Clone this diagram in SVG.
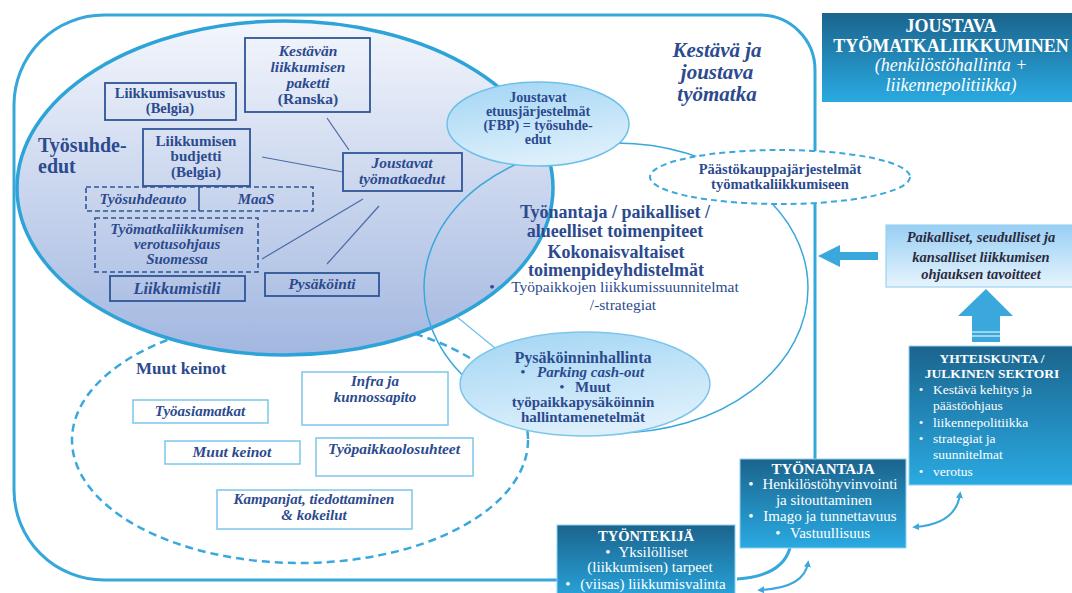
<svg xmlns="http://www.w3.org/2000/svg" width="1072" height="593" viewBox="0 0 1072 593">
<style>
.t{font-family:"Liberation Serif","Times New Roman",serif;fill:#2C4A8E;text-anchor:middle}
.s{text-anchor:start}
.b{font-weight:bold}
.i{font-style:italic}
.w{fill:#ffffff}
.box{fill:none;stroke:#2F5597;stroke-width:1.8}
.dbox{fill:none;stroke:#2F5597;stroke-width:1.6;stroke-dasharray:5 3}
.lbox{fill:#ffffff;stroke:#7CC6EC;stroke-width:1.5}
.link{stroke:#4A6BA8;stroke-width:1.2;fill:none}
.frame{fill:none;stroke:#35A7DA;stroke-width:3}
.cur{fill:none;stroke:#3AA8DC;stroke-width:2}
.dark{fill:url(#gDark);stroke:#8FD2F2;stroke-width:1}
</style>
<defs>
<linearGradient id="gBig" x1="0" y1="0" x2="0" y2="1">
<stop offset="0" stop-color="#F3F6FC"/>
<stop offset="1" stop-color="#A2B7E0"/>
</linearGradient>
<linearGradient id="gLight" x1="0" y1="0" x2="0.3" y2="1">
<stop offset="0" stop-color="#A2D5F4"/>
<stop offset="1" stop-color="#DCEFFB"/>
</linearGradient>
<linearGradient id="gDark" x1="0" y1="0" x2="0" y2="1">
<stop offset="0" stop-color="#1B648D"/>
<stop offset="1" stop-color="#2AAAE2"/>
</linearGradient>
<linearGradient id="gPale" x1="0" y1="0" x2="0" y2="1">
<stop offset="0" stop-color="#98CFF4"/>
<stop offset="1" stop-color="#E6F4FC"/>
</linearGradient>
<marker id="ah" viewBox="0 0 10 10" refX="6" refY="5" markerWidth="7" markerHeight="7" markerUnits="userSpaceOnUse" orient="auto-start-reverse">
<path d="M0,0 L10,5 L0,10 z" fill="#3AA8DC"/>
</marker>
</defs>

<g id="connectors">
<path class="frame" d="M557,580 L104,580 A90,90 0 0 1 14,490 L14,105 A90,90 0 0 1 104,15 L760,15 A55,55 0 0 1 815,70 L815,459"/>
<path class="frame" d="M790,548 Q782,576 737,579"/>
<path class="cur" d="M808,563 Q804,588 760,590" marker-start="url(#ah)" marker-end="url(#ah)"/>
<path class="cur" d="M960,494 Q956,524 915,527" marker-start="url(#ah)" marker-end="url(#ah)"/>
</g>

<g id="node-muut-keinot-alue">
<ellipse cx="300" cy="440" rx="228" ry="123" fill="none" stroke="#3AA8DC" stroke-width="2.5" stroke-dasharray="8 5"/>
</g>

<g id="node-tyosuhdeedut">
<ellipse cx="285" cy="188" rx="268" ry="167" fill="url(#gBig)" stroke="#2EA3D8" stroke-width="3.5"/>
<text class="t b s" x="38" y="152" font-size="20">Työsuhde-</text>
<text class="t b s" x="38" y="173" font-size="20">edut</text>
</g>

<g id="node-toimenpiteet">
<ellipse cx="616" cy="288" rx="192" ry="145" fill="none" stroke="#3AA8DC" stroke-width="1.5"/>
<text class="t b" x="615" y="218" font-size="18">Työnantaja / paikalliset /</text>
<text class="t b" x="615" y="237" font-size="18">alueelliset toimenpiteet</text>
<text class="t b" x="616" y="258" font-size="18">Kokonaisvaltaiset</text>
<text class="t b" x="616" y="276" font-size="18">toimenpideyhdistelmät</text>
<text class="t" x="492" y="292" font-size="15.5">•</text>
<text class="t" x="625" y="292" font-size="15.5">Työpaikkojen liikkumissuunnitelmat</text>
<text class="t" x="623" y="310" font-size="15.5">/-strategiat</text>
</g>

<g id="connectors-links">
<line class="link" x1="327" y1="118" x2="349" y2="150"/>
<line class="link" x1="262" y1="157" x2="343" y2="172"/>
<line class="link" x1="363" y1="199" x2="262" y2="259"/>
<line class="link" x1="379" y1="206" x2="327" y2="264"/>
<line x1="457" y1="317" x2="495" y2="348" stroke="#6CC0EA" stroke-width="1.2"/>
</g>

<g id="node-fbp">
<ellipse cx="538" cy="124" rx="91" ry="42" fill="url(#gLight)" stroke="#6CC0EA" stroke-width="1.5"/>
<text class="t b" x="538" y="102" font-size="14">Joustavat</text>
<text class="t b" x="538" y="116" font-size="14">etuusjärjestelmät</text>
<text class="t b" x="538" y="130" font-size="14">(FBP) = työsuhde-</text>
<text class="t b" x="538" y="144" font-size="14">edut</text>
</g>

<g id="node-kestava-otsikko">
<text class="t b i" x="717" y="57" font-size="21">Kestävä ja</text>
<text class="t b i" x="717" y="79" font-size="21">joustava</text>
<text class="t b i" x="717" y="101" font-size="21">työmatka</text>
</g>

<g id="node-paastokauppa">
<ellipse cx="780" cy="177" rx="130" ry="27" fill="#ffffff" stroke="#3AA8DC" stroke-width="2" stroke-dasharray="6 4"/>
<text class="t b" x="780" y="174" font-size="14.5">Päästökauppajärjestelmät</text>
<text class="t b" x="780" y="189" font-size="14.5">työmatkaliikkumiseen</text>
</g>

<g id="node-pysakointi-hallinta">
<ellipse cx="585" cy="384" rx="125" ry="52" fill="url(#gLight)" stroke="#7CC6EC" stroke-width="1.5"/>
<text class="t b" x="583" y="363" font-size="16">Pysäköinninhallinta</text>
<text class="t" x="523" y="377" font-size="15">•</text>
<text class="t b i s" x="537" y="377" font-size="15">Parking cash-out</text>
<text class="t" x="562" y="392" font-size="15">•</text>
<text class="t b s" x="575" y="392" font-size="15">Muut</text>
<text class="t b" x="583" y="407" font-size="15">työpaikkapysäköinnin</text>
<text class="t b" x="583" y="422" font-size="15">hallintamenetelmät</text>
</g>

<g id="node-kestavan-paketti">
<rect class="box" x="245" y="38" width="125" height="74"/>
<text class="t b i" x="308" y="56" font-size="15.5">Kestävän</text>
<text class="t b i" x="308" y="72" font-size="15.5">liikkumisen</text>
<text class="t b i" x="308" y="88" font-size="15.5">paketti</text>
<text class="t b" x="308" y="104" font-size="15.5">(Ranska)</text>
</g>

<g id="node-liikkumisavustus">
<rect class="box" x="105" y="83" width="131" height="37"/>
<text class="t b" x="170" y="98" font-size="14.5">Liikkumisavustus</text>
<text class="t b" x="170" y="113" font-size="14.5">(Belgia)</text>
</g>

<g id="node-liikkumisen-budjetti">
<rect class="box" x="143" y="129" width="107" height="57"/>
<text class="t b" x="196" y="146" font-size="15">Liikkumisen</text>
<text class="t b" x="196" y="161" font-size="15">budjetti</text>
<text class="t b" x="196" y="177" font-size="15">(Belgia)</text>
</g>

<g id="node-joustavat-tyomatkaedut">
<rect class="box" x="343" y="153" width="119" height="38"/>
<text class="t b i" x="402" y="168" font-size="15.5">Joustavat</text>
<text class="t b i" x="402" y="184" font-size="15.5">työmatkaedut</text>
</g>

<g id="node-tyosuhdeauto-maas">
<rect class="dbox" x="86" y="187" width="227" height="24"/>
<line x1="199" y1="187" x2="199" y2="211" stroke="#2F5597" stroke-width="1.6"/>
<text class="t b i" x="143" y="204" font-size="15">Työsuhdeauto</text>
<text class="t b i" x="256" y="204" font-size="15">MaaS</text>
</g>

<g id="node-verotusohjaus">
<rect class="dbox" x="95" y="218" width="163" height="54"/>
<text class="t b i" x="177" y="234" font-size="15">Työmatkaliikkumisen</text>
<text class="t b i" x="177" y="249" font-size="15">verotusohjaus</text>
<text class="t b i" x="177" y="264" font-size="15">Suomessa</text>
</g>

<g id="node-liikkumistili">
<rect class="box" x="110" y="276" width="135" height="25"/>
<text class="t b i" x="177" y="294" font-size="16.5">Liikkumistili</text>
</g>

<g id="node-pysakointi">
<rect class="box" x="265" y="273" width="114" height="23"/>
<text class="t b i" x="322" y="289" font-size="15.5">Pysäköinti</text>
</g>

<g id="node-muut-keinot-otsikko">
<text class="t b s" x="136" y="374" font-size="17">Muut keinot</text>
</g>

<g id="node-tyoasiamatkat">
<rect class="lbox" x="133" y="400" width="135" height="23"/>
<text class="t b i" x="200" y="416" font-size="15">Työasiamatkat</text>
</g>

<g id="node-infra">
<rect class="lbox" x="302" y="372" width="146" height="53"/>
<text class="t b i" x="375" y="386" font-size="15">Infra ja</text>
<text class="t b i" x="375" y="402" font-size="15">kunnossapito</text>
</g>

<g id="node-muut-keinot">
<rect class="lbox" x="165" y="441" width="135" height="23"/>
<text class="t b i" x="232" y="457" font-size="15.5">Muut keinot</text>
</g>

<g id="node-tyopaikkaolosuhteet">
<rect class="lbox" x="316" y="438" width="157" height="38"/>
<text class="t b i" x="394" y="454" font-size="15.5">Työpaikkaolosuhteet</text>
</g>

<g id="node-kampanjat">
<rect class="lbox" x="217" y="490" width="195" height="39"/>
<text class="t b i" x="314" y="504" font-size="15">Kampanjat, tiedottaminen</text>
<text class="t b i" x="314" y="520" font-size="15">&amp; kokeilut</text>
</g>

<g id="node-otsikko">
<rect x="822" y="13" width="260" height="89" fill="url(#gDark)"/>
<text class="t b w" x="951" y="32" font-size="18">JOUSTAVA</text>
<text class="t b w" x="951" y="52" font-size="18">TYÖMATKALIIKKUMINEN</text>
<text class="t i w" x="951" y="71" font-size="18">(henkilöstöhallinta +</text>
<text class="t i w" x="951" y="91" font-size="18">liikennepolitiikka)</text>
</g>

<g id="node-tavoitteet">
<rect x="886" y="225" width="195" height="62" fill="url(#gPale)" stroke="#9AD2F2" stroke-width="1.2"/>
<text class="t b i" x="981" y="242" font-size="14.5" style="fill:#2B2B3F">Paikalliset, seudulliset ja</text>
<text class="t b i" x="981" y="262" font-size="14.5" style="fill:#2B2B3F">kansalliset liikkumisen</text>
<text class="t b i" x="981" y="279" font-size="14.5" style="fill:#2B2B3F">ohjauksen tavoitteet</text>
</g>

<g id="node-nuoli-vasen">
<polygon points="818,256 840,245 840,252 878,252 878,260 840,260 840,267" fill="#3AA8DC"/>
</g>

<g id="node-nuoli-ylos">
<polygon points="986,289 1013,316 1000,316 1000,342 972,342 972,316 958,316" fill="#3AA8DC"/>
<line x1="972" y1="332" x2="1000" y2="332" stroke="#ffffff" stroke-width="1"/>
<line x1="972" y1="336" x2="1000" y2="336" stroke="#ffffff" stroke-width="1"/>
</g>

<g id="node-yhteiskunta">
<rect class="dark" x="909" y="346" width="170" height="139"/>
<text class="t b w" x="992" y="363" font-size="13.5">YHTEISKUNTA /</text>
<text class="t b w" x="992" y="378" font-size="13.5">JULKINEN SEKTORI</text>
<text class="t w" x="921" y="394" font-size="13">•</text>
<text class="t w s" x="933" y="394" font-size="13.5">Kestävä kehitys ja</text>
<text class="t w s" x="933" y="410" font-size="13.5">päästöohjaus</text>
<text class="t w" x="921" y="427" font-size="13">•</text>
<text class="t w s" x="933" y="427" font-size="13.5">liikennepolitiikka</text>
<text class="t w" x="921" y="443" font-size="13">•</text>
<text class="t w s" x="933" y="443" font-size="13.5">strategiat ja</text>
<text class="t w s" x="933" y="459" font-size="13.5">suunnitelmat</text>
<text class="t w" x="921" y="476" font-size="13">•</text>
<text class="t w s" x="933" y="476" font-size="13.5">verotus</text>
</g>

<g id="node-tyonantaja">
<rect class="dark" x="740" y="459" width="166" height="89"/>
<text class="t b w" x="823" y="474" font-size="15">TYÖNANTAJA</text>
<text class="t w" x="751" y="489" font-size="15">•</text>
<text class="t w" x="830" y="489" font-size="15">Henkilöstöhyvinvointi</text>
<text class="t w" x="824" y="505" font-size="15">ja sitouttaminen</text>
<text class="t w" x="751" y="521" font-size="15">•</text>
<text class="t w" x="830" y="521" font-size="15">Imago ja tunnettavuus</text>
<text class="t w" x="778" y="538" font-size="15">•</text>
<text class="t w" x="830" y="538" font-size="15">Vastuullisuus</text>
</g>

<g id="node-tyontekija">
<rect class="dark" x="557" y="525" width="178" height="80"/>
<text class="t b w" x="646" y="541" font-size="14.5">TYÖNTEKIJÄ</text>
<text class="t w" x="608" y="557" font-size="15">•</text>
<text class="t w" x="653" y="557" font-size="15">Yksilölliset</text>
<text class="t w" x="650" y="572" font-size="15">(liikkumisen) tarpeet</text>
<text class="t w" x="568" y="589" font-size="15">•</text>
<text class="t w" x="653" y="589" font-size="15">(viisas) liikkumisvalinta</text>
</g>
</svg>
